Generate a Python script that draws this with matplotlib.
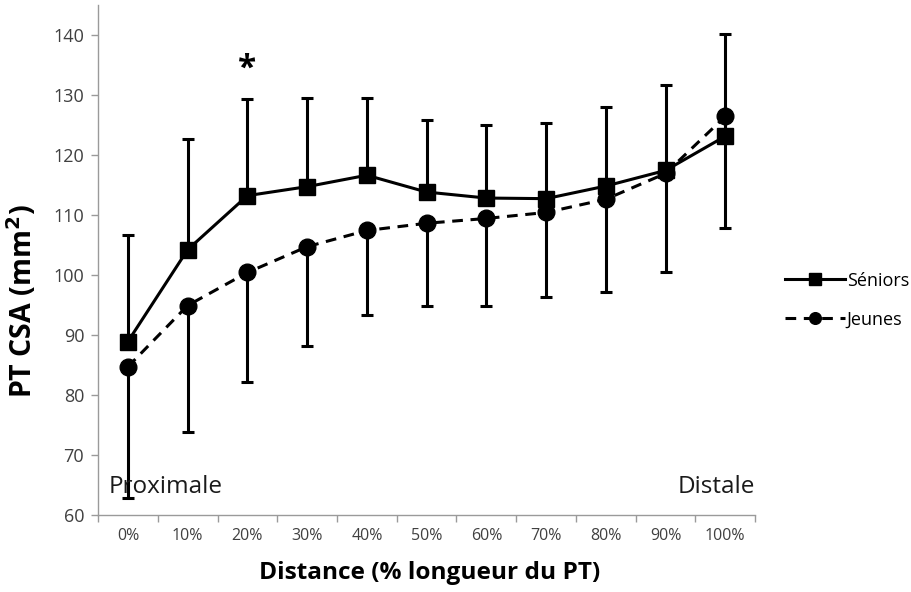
import matplotlib.pyplot as plt
import numpy as np

plt.rcParams['font.family'] = ['Open Sans', 'DejaVu Sans']

categories = ["0%", "10%", "20%", "30%", "40%", "50%", "60%", "70%", "80%", "90%", "100%"]
seniors = [88.9, 104.2, 113.2, 114.7, 116.6, 113.8, 112.8, 112.7, 114.8, 117.4, 123.1]
jeunes = [84.7, 94.9, 100.4, 104.7, 107.4, 108.6, 109.4, 110.4, 112.6, 116.9, 126.4]
seniors_top = [106.6, 122.7, 129.3, 129.5, 129.5, 125.8, 125.0, 125.3, 128.0, 131.7, 140.2]
jeunes_bottom = [62.9, 73.8, 82.1, 88.1, 93.4, 94.8, 94.8, 96.4, 97.1, 100.5, 107.8]

x = np.arange(len(categories))
seniors = np.array(seniors)
jeunes = np.array(jeunes)
up = np.array(seniors_top) - seniors
down = jeunes - np.array(jeunes_bottom)

fig = plt.figure(figsize=(9.12, 5.92), dpi=100)
ax = fig.add_axes([0.1075, 0.130, 0.7205, 0.862])

ax.errorbar(x, seniors, yerr=[np.zeros_like(up), up], fmt="none", ecolor="k",
            elinewidth=2.2, capsize=4.3, capthick=2.2, zorder=2)
ax.errorbar(x, jeunes, yerr=[down, np.zeros_like(down)], fmt="none", ecolor="k",
            elinewidth=2.2, capsize=4.3, capthick=2.2, zorder=2)

ax.plot(x, seniors, color="k", lw=2.2, marker="s", markersize=11.5, label="Séniors", zorder=3)
ax.plot(x, jeunes, color="k", lw=2.2, ls=(0, (3.5, 2.5)), marker="o", markersize=12,
        label="Jeunes", zorder=3)

ax.text(2, 134.3, "*", ha="center", va="center", fontsize=24, fontweight="bold", color="k")
ax.text(-0.33, 64.6, "Proximale", ha="left", va="center", fontsize=17.5, color="#1a1a1a")
ax.text(10.5, 64.6, "Distale", ha="right", va="center", fontsize=17.5, color="#1a1a1a")

ax.set_xlim(-0.5, 10.5)
ax.set_ylim(60, 145)
ax.set_yticks(np.arange(60, 141, 10))
ax.set_xticks(x)
ax.set_xticklabels(categories)
ax.set_xticks(np.arange(-0.5, 11, 1), minor=True)
ax.tick_params(axis="x", which="major", length=0, pad=9, labelsize=11.5, labelcolor="#404040")
ax.tick_params(axis="x", which="minor", length=5, color="#9a9a9a", width=1)
ax.tick_params(axis="y", length=5, color="#9a9a9a", width=1, labelsize=13, labelcolor="#404040", pad=5)

for s in ["top", "right"]:
    ax.spines[s].set_visible(False)
for s in ["left", "bottom"]:
    ax.spines[s].set_color("#9a9a9a")
    ax.spines[s].set_linewidth(1)

ax.set_xlabel("Distance (% longueur du PT)", fontsize=17.6, fontweight="bold")
ax.set_ylabel("PT CSA (mm$^\\mathbf{2}$)", fontsize=20.5, fontweight="bold")
ax.xaxis.set_label_coords(0.504, -0.09)
ax.yaxis.set_label_coords(-0.09, 0.42)

ax.legend(loc="center left", bbox_to_anchor=(0.861, 0.493), bbox_transform=fig.transFigure,
          frameon=False, fontsize=13, handlelength=3.3, labelspacing=1.15, handletextpad=0.1,
          borderaxespad=0, borderpad=0, markerscale=0.7)

fig.savefig("out.png", dpi=100)
